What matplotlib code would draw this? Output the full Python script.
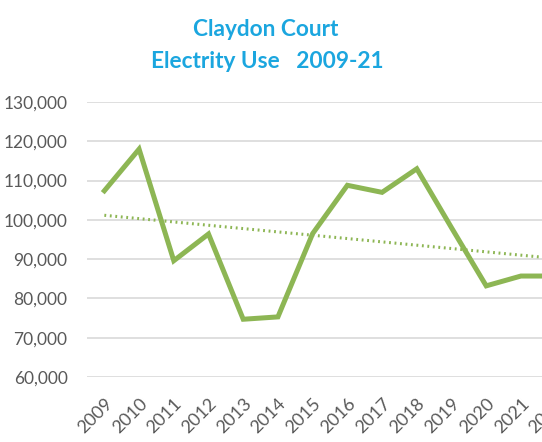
import matplotlib.pyplot as plt
import numpy as np
from matplotlib.ticker import FuncFormatter

years = ['2009', '2010', '2011', '2012', '2013', '2014', '2015',
         '2016', '2017', '2018', '2019', '2020', '2021', '2022']
usage = [107400, 118000, 89600, 96400, 74700, 75300, 96500,
         108800, 107000, 113000, 98000, 83200, 85700, 85700]

green = '#8DB654'
blue = '#1BA6DF'
grey = '#595959'

plt.rcParams['font.family'] = ['Lato', 'DejaVu Sans']

fig = plt.figure(figsize=(5.42, 4.42), dpi=100)
# axes runs past the right edge, as in the cropped original
ax = fig.add_axes([87 / 542, 65 / 442, 486 / 542, 275 / 442])

x = np.arange(len(years))
ax.plot(x, usage, color=green, lw=3.6, solid_joinstyle='miter', zorder=3)

k, b = np.polyfit(x, usage, 1)
ax.plot(x, k * x + b, color=green, lw=2.2, ls=(0, (0.6, 1.2)), zorder=2)

ax.set_xlim(-0.5, len(years) - 0.5)
ax.set_ylim(60000, 130000)
ax.set_yticks(np.arange(60000, 130001, 10000))
ax.yaxis.set_major_formatter(FuncFormatter(lambda v, p: f'{int(v):,}'))
ax.set_xticks(x)
ax.set_xticklabels(years, rotation=45, ha='right', rotation_mode='anchor')

ax.grid(axis='y', color='#D9D9D9', lw=1.2)
ax.set_axisbelow(True)
for s in ax.spines.values():
    s.set_visible(False)
ax.tick_params(length=0, colors=grey, labelsize=12.5)
ax.tick_params(axis='y', pad=14)
ax.tick_params(axis='x', pad=13, labelsize=13)

fig.text(266 / 542, 1 - 29 / 442, 'Claydon Court', ha='center', va='center',
         color=blue, fontsize=16.3, fontweight='bold')
fig.text(267 / 542, 1 - 61 / 442, 'Electrity Use   2009-21', ha='center', va='center',
         color=blue, fontsize=16.3, fontweight='bold')

fig.savefig('out.png', dpi=100)
